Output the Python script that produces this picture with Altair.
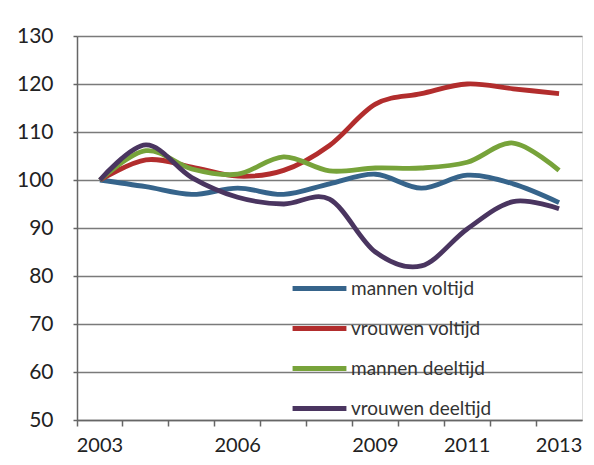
import altair as alt
import pandas as pd

years = ["2003", "2004", "2005", "2006", "2007", "2008", "2009", "2010", "2011", "2012", "2013"]
shown_years = ["2003", "2006", "2009", "2011", "2013"]

series_names = ["mannen voltijd", "vrouwen voltijd", "mannen deeltijd", "vrouwen deeltijd"]
mannen_voltijd = [100, 98.6, 97.0, 98.3, 97.0, 99.2, 101.2, 98.3, 101.0, 99.2, 95.3]
vrouwen_voltijd = [100, 104.2, 102.7, 100.8, 102.0, 107.2, 115.8, 118.0, 120.0, 119.0, 118.0]
mannen_deeltijd = [100, 106.1, 102.3, 101.2, 104.8, 101.9, 102.5, 102.5, 103.7, 107.7, 102.0]
vrouwen_deeltijd = [100, 107.3, 100.5, 96.4, 95.0, 96.0, 85.0, 82.1, 89.8, 95.5, 94.0]
colors = ["#36648B", "#B22D2D", "#77A33A", "#4A3560"]

values = [mannen_voltijd, vrouwen_voltijd, mannen_deeltijd, vrouwen_deeltijd]
rows = []
for name, vals in zip(series_names, values):
    for y, v in zip(years, vals):
        rows.append({"jaar": y, "waarde": v, "reeks": name})
df = pd.DataFrame(rows)

label_test = " || ".join([f"datum.value == '{y}'" for y in shown_years])

FONT = "Lato"

chart = alt.Chart(df).mark_line(
    strokeWidth=4.8, interpolate="cardinal"
).encode(
    x=alt.X(
        "jaar:O",
        bandPosition=0.5,
        scale=alt.Scale(type="band", domain=years, paddingInner=0, paddingOuter=0),
        axis=alt.Axis(
            title=None,
            bandPosition=0,
            labelExpr=f"({label_test}) ? datum.value : ''",
            labelAngle=0,
            labelFontSize=20,
            labelColor="#222222",
            labelFont=FONT,
            labelPadding=9,
            tickSize=6,
            tickColor="#666666",
            tickWidth=1.5,
            domainColor="#666666",
            domainWidth=1.5,
            grid=False,
        ),
    ),
    y=alt.Y(
        "waarde:Q",
        scale=alt.Scale(domain=[50, 130], nice=False, zero=False),
        axis=alt.Axis(
            title=None,
            values=[50, 60, 70, 80, 90, 100, 110, 120, 130],
            labelFontSize=21,
            labelColor="#222222",
            labelFont=FONT,
            labelPadding=20,
            tickSize=4,
            tickColor="#666666",
            tickWidth=1.5,
            domainColor="#666666",
            domainWidth=1.5,
            grid=True,
            gridColor="#7a7a7a",
            gridWidth=1.5,
        ),
    ),
    color=alt.Color(
        "reeks:N",
        scale=alt.Scale(domain=series_names, range=colors),
        legend=alt.Legend(
            title=None,
            orient="none",
            legendX=213,
            legendY=223,
            symbolType="stroke",
            symbolStrokeWidth=5,
            symbolSize=2900,
            labelFontSize=19,
            labelFont=FONT,
            labelColor="#333333",
            labelOffset=2,
            rowPadding=0,
        ),
    ),
    order=alt.Order("reeks:N"),
).properties(
    width=505,
    height=384,
    autosize=alt.AutoSizeParams(type="none"),
    padding={"left": 69, "top": 28, "right": 4, "bottom": 37},
).configure_view(
    stroke=None
).configure(
    background="white"
)

chart.save("out.html", embed_options={"renderer": "svg", "actions": False})
